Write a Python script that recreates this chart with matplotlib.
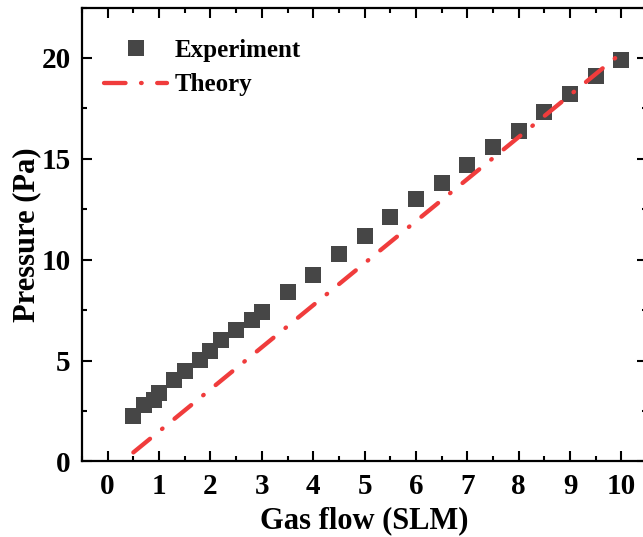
import numpy as np
from matplotlib import pyplot as plt
from matplotlib.ticker import MultipleLocator

# measured pressure vs gas flow
flow = [0.5, 0.7, 0.9, 1.0, 1.3, 1.5, 1.8, 2.0, 2.2, 2.5, 2.8, 3.0,
        3.5, 4.0, 4.5, 5.0, 5.5, 6.0, 6.5, 7.0, 7.5, 8.0, 8.5, 9.0, 9.5, 10.0]
pressure = [2.25, 2.8, 3.05, 3.4, 4.05, 4.5, 5.05, 5.5, 6.0, 6.5, 7.0, 7.42,
            8.4, 9.25, 10.3, 11.2, 12.1, 13.0, 13.8, 14.7, 15.6, 16.4, 17.3, 18.2, 19.1, 19.9]

# theoretical line end points
theory_flow = [0.5, 10.0]
theory_pressure = [0.45, 20.25]

plt.rcParams['font.family'] = ['Liberation Serif', 'DejaVu Serif']
plt.rcParams['font.weight'] = 'bold'

fig = plt.figure(figsize=(6.43, 5.37), dpi=100)
ax = fig.add_axes([0.1275, 0.1406, 0.879, 0.8454])

ax.plot(flow, pressure, 's', color='#464646', markersize=11.5, markeredgewidth=0,
        label='Experiment', zorder=2)
ax.plot(theory_flow, theory_pressure, color='#f03c3c', lw=3.1,
        dashes=(5.0, 3.6, 0.15, 3.6), dash_capstyle='round', label='Theory', zorder=3)

ax.set_xlim(-0.5, 10.5)
ax.set_ylim(0, 22.5)
ax.xaxis.set_major_locator(MultipleLocator(1))
ax.xaxis.set_minor_locator(MultipleLocator(0.5))
ax.yaxis.set_major_locator(MultipleLocator(5))
ax.yaxis.set_minor_locator(MultipleLocator(2.5))
ax.tick_params(which='both', direction='in', top=True, right=True, width=1.5,
               labelsize=21, pad=8)
ax.tick_params(which='major', length=7)
ax.tick_params(which='minor', length=3.5)
for s in ax.spines.values():
    s.set_linewidth(1.6)

ax.set_xlabel('Gas flow (SLM)', fontsize=22, fontweight='bold', labelpad=5)
ax.set_ylabel('Pressure (Pa)', fontsize=22, fontweight='bold', labelpad=0)

leg = ax.legend(loc='upper left', frameon=False, fontsize=18, handlelength=2.5,
                handletextpad=0.3, borderaxespad=0.5, labelspacing=0.45,
                bbox_to_anchor=(0.0, 0.98))
for t in leg.get_texts():
    t.set_fontweight('bold')

fig.savefig('out.png', dpi=100)
